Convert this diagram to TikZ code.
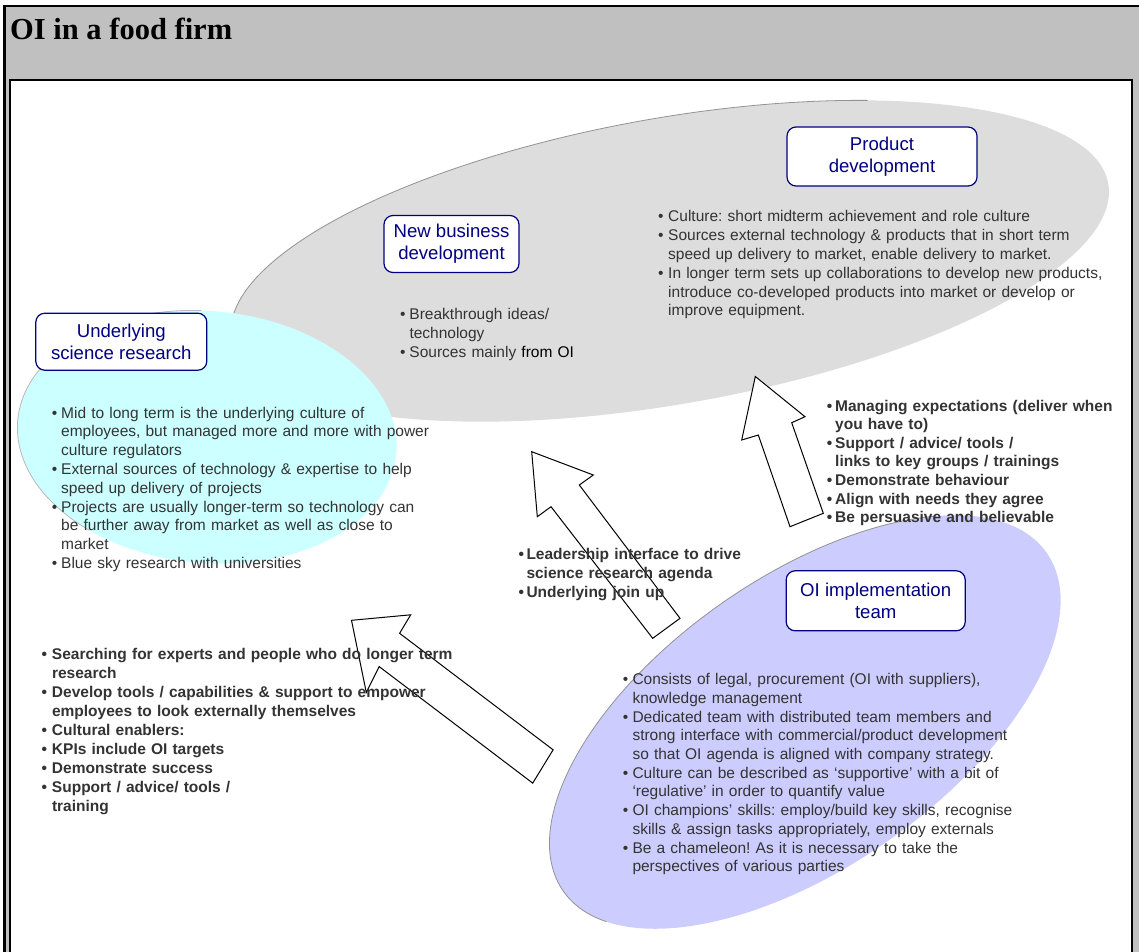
\documentclass[tikz,border=0pt]{standalone}
\usepackage{fontspec}
\setmainfont{Liberation Sans}
\newfontfamily\titleserif{Liberation Serif}
\definecolor{titlegray}{HTML}{C0C0C0}
\definecolor{ovalgray}{HTML}{DDDDDD}
\definecolor{ovalcyan}{HTML}{CCFFFF}
\definecolor{ovalblue}{HTML}{CCCCFF}
\definecolor{navy}{HTML}{000080}
\definecolor{bodytext}{HTML}{333333}

% bullet item with a hanging indent of \bulind; lines inside are broken with \newline
\newlength\bulind
\newcommand\bitem[1]{\par\hangindent=\bulind\hangafter=1\noindent\makebox[\bulind][l]{\strut\textbullet}#1}

\tikzset{
  headbox/.style={draw=navy, line width=1.2pt, rounded corners=9pt, fill=white,
    text=navy, align=center, inner sep=0pt,
    font=\fontsize{18.6}{21.7}\selectfont},
  notes/.style={anchor=north west, inner sep=0pt, text width=480pt,
    text=bodytext, font=\fontsize{15.5}{18.8}\selectfont,
    execute at begin node={\raggedright\frenchspacing}},
  blockarrow/.style={draw=black, line width=1pt, fill=white, line join=miter},
  rim/.style={draw=gray!85, line width=0.8pt},
}

\begin{document}
\begin{tikzpicture}[x=1pt,y=1pt]
\useasboundingbox (0,0) rectangle (1139,-951);

% slide frame: grey title band and white panel
\draw[line width=2.8pt, fill=titlegray] (4.2,-6) rectangle (1150,-965);
\draw[line width=2.2pt, fill=white] (9.8,-80.2) rectangle (1131.7,-965);
\node[anchor=base west, inner sep=0pt, font=\titleserif\bfseries\fontsize{30.5}{34}\selectfont]
  (title) at (10,-39.3) {OI in a food firm};

% grey oval: new business and product development
\begin{scope}[shift={(670,-261)}, rotate=10]
  \fill[ovalgray] (0,0) ellipse [x radius=445pt, y radius=143pt];
  \draw[rim] ({445*cos(60)},{143*sin(60)}) arc[start angle=60, end angle=190, x radius=445pt, y radius=143pt];
\end{scope}

% cyan oval: underlying science research
\begin{scope}[shift={(207,-437)}, rotate=-5]
  \fill[ovalcyan] (0,0) ellipse [x radius=190pt, y radius=126pt];
  \draw[rim, draw=gray!55] ({190*cos(95)},{126*sin(95)}) arc[start angle=95, end angle=235, x radius=190pt, y radius=126pt];
\end{scope}

% lavender oval: OI implementation team
\begin{scope}[shift={(805,-722)}, rotate=35]
  \fill[ovalblue] (0,0) ellipse [x radius=295pt, y radius=145pt];
  \draw[rim] ({295*cos(40)},{145*sin(40)}) arc[start angle=40, end angle=200, x radius=295pt, y radius=145pt];
\end{scope}

% block arrows
\draw[blockarrow] (351.5,-620.3) -- (410.7,-614.8) -- (399.6,-633.3) -- (553.1,-749.8)
  -- (532.7,-783.1) -- (379.2,-666.6) -- (366.3,-692.5) -- cycle;
\draw[blockarrow] (531.7,-451.7) -- (593.3,-475) -- (579.3,-485) -- (680,-618.3)
  -- (652.7,-638.3) -- (551,-506.7) -- (537.3,-516.7) -- cycle;
\draw[blockarrow] (755.3,-376.5) -- (805,-416.7) -- (791.7,-422.7) -- (823.3,-513.3)
  -- (790,-526.7) -- (758.3,-435) -- (741.7,-440) -- cycle;

% titled boxes
\node[headbox, minimum width=190pt, minimum height=59pt] (pd) at (882,-156.5) {Product\\development};
\node[headbox, minimum width=135pt, minimum height=57pt] (nbd) at (451.5,-244) {New business\\development};
\node[headbox, minimum width=171pt, minimum height=57pt] (usr) at (121.3,-341.7) {Underlying\\science research};
\node[headbox, minimum width=179pt, minimum height=60pt] (oit) at (875.7,-600.8) {OI implementation\\team};

% notes
\node[notes] (pdnotes) at (658,-202.8) {\setlength\bulind{10pt}%
  \bitem{Culture: short midterm achievement and role culture}
  \bitem{Sources external technology \& products that in short term\newline speed up delivery to market, enable delivery to market.}
  \bitem{In longer term sets up collaborations to develop new products,\newline introduce co-developed products into market or develop or\newline improve equipment.}\par};

\node[notes] (nbdnotes) at (400,-300.6) {\setlength\bulind{9.3pt}%
  \bitem{Breakthrough ideas/\newline technology}
  \bitem{Sources mainly {\color{black}from OI}}\par};

\node[notes] (usrnotes) at (51.7,-399.1) {\setlength\bulind{9.3pt}%
  \bitem{Mid to long term is the underlying culture of\newline employees, but managed more and more with power\newline culture regulators}
  \bitem{External sources of technology \& expertise to help\newline speed up delivery of projects}
  \bitem{Projects are usually longer-term so technology can\newline be further away from market as well as close to\newline market}
  \bitem{Blue sky research with universities}\par};

\node[notes, font=\bfseries\fontsize{15.5}{18.6}\selectfont] (rightnotes) at (826.7,-392.3) {\setlength\bulind{8.3pt}%
  \bitem{Managing expectations (deliver when\newline you have to)}
  \bitem{Support / advice/ tools /\newline links to key groups / trainings}
  \bitem{Demonstrate behaviour}
  \bitem{Align with needs they agree}
  \bitem{Be persuasive and believable}\par};

\node[notes, font=\bfseries\fontsize{15.5}{18.8}\selectfont] (midnotes) at (518.3,-540.8) {\setlength\bulind{8pt}%
  \bitem{Leadership interface to drive\newline science research agenda}
  \bitem{Underlying join up}\par};

\node[notes, font=\bfseries\fontsize{15.5}{19}\selectfont] (leftnotes) at (41.4,-640) {\setlength\bulind{10.4pt}%
  \bitem{Searching for experts and people who do longer term\newline research}
  \bitem{Develop tools / capabilities \& support to empower\newline employees to look externally themselves}
  \bitem{Cultural enablers:}
  \bitem{KPIs include OI targets}
  \bitem{Demonstrate success}
  \bitem{Support / advice/ tools /\newline training}\par};

\node[notes, font=\fontsize{15.5}{18.7}\selectfont] (oitnotes) at (622.7,-665.8) {\setlength\bulind{9.6pt}%
  \bitem{Consists of legal, procurement (OI with suppliers),\newline knowledge management}
  \bitem{Dedicated team with distributed team members and\newline strong interface with commercial/product development\newline so that OI agenda is aligned with company strategy.}
  \bitem{Culture can be described as ‘supportive’ with a bit of\newline ‘regulative’ in order to quantify value}
  \bitem{OI champions’ skills: employ/build key skills, recognise\newline skills \& assign tasks appropriately, employ externals}
  \bitem{Be a chameleon! As it is necessary to take the\newline perspectives of various parties}\par};
\end{tikzpicture}
\end{document}
